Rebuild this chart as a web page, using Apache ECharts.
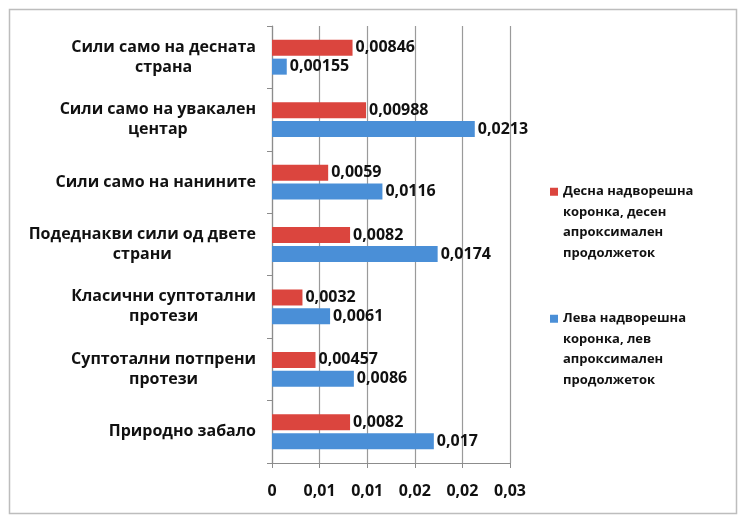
<!DOCTYPE html>
<html>
<head>
<meta charset="utf-8">
<script src="https://cdn.jsdelivr.net/npm/echarts@6/dist/echarts.min.js"></script>
<style>
  html, body { margin: 0; padding: 0; background: #fff; }
  #chart { width: 743px; height: 520px; }
</style>
</head>
<body>
<div id="chart"></div>
<script>
// Categories listed top to bottom; '\n' marks where a label wraps
const categories = [
  'Сили само на десната\nстрана',
  'Сили само на увакален\nцентар',
  'Сили само на нанините',
  'Подеднакви сили од двете\nстрани',
  'Класични суптотални\nпротези',
  'Суптотални потпрени\nпротези',
  'Природно забало'
];
const rightCrown = [0.00846, 0.00988, 0.0059, 0.0082, 0.0032, 0.00457, 0.0082];
const leftCrown  = [0.00155, 0.0213, 0.0116, 0.0174, 0.0061, 0.0086, 0.017];
const seriesNames = [
  'Десна надворешна коронка, десен апроксимален продолжеток',
  'Лева надворешна коронка, лев апроксимален продолжеток'
];
const legendText = [
  'Десна надворешна\nкоронка, десен\nапроксимален\nпродолжеток',
  'Лева надворешна\nкоронка, лев\nапроксимален\nпродолжеток'
];
const xTickLabels = ['0', '0,01', '0,01', '0,02', '0,02', '0,03'];
const xStep = 0.005;

const FONT = '"Open Sans", "DejaVu Sans", sans-serif';
const CAT_SIZE = 16;
const VAL_SIZE = 16;

// Wrapped category labels: every line is padded on both sides to the width of the
// longest line, so the lines come out centred inside a block that hugs the axis
const measureCtx = document.createElement('canvas').getContext('2d');
measureCtx.font = 'bold ' + CAT_SIZE + 'px ' + FONT;
const rich = {};
const catIndex = {};
categories.forEach(function (c, i) {
  catIndex[c] = i;
  const lines = c.split('\n');
  const widths = lines.map(function (l) { return measureCtx.measureText(l).width; });
  const w = Math.max.apply(null, widths);
  lines.forEach(function (l, j) {
    const p = Math.max(0, (w - widths[j]) / 2);
    rich['c' + i + '_' + j] = {
      padding: [0, p, 0, p],
      fontFamily: FONT, fontWeight: 'bold', fontSize: CAT_SIZE, lineHeight: 20, color: '#111'
    };
  });
});

// Legend entries: three leading blank lines keep the swatch level with the first text line
function legendFor(i, top) {
  return {
    data: [seriesNames[i]],
    orient: 'vertical', left: 550, top: top, padding: 0,
    icon: 'rect', itemWidth: 8, itemHeight: 8,
    formatter: function () { return '\n\n\n' + legendText[i]; },
    textStyle: {
      fontFamily: FONT, fontWeight: 'bold', fontSize: 13, color: '#111', lineHeight: 20.5
    }
  };
}

const valueLabel = {
  show: true, position: 'right', distance: 3,
  fontFamily: FONT, fontWeight: 'bold', fontSize: VAL_SIZE, color: '#111',
  formatter: function (p) { return String(p.value).replace('.', ','); }
};

const chart = echarts.init(document.getElementById('chart'), null, { renderer: 'canvas' });
chart.setOption({
  backgroundColor: '#fff',
  animation: false,
  graphic: [{
    type: 'rect', shape: { x: 9.5, y: 9.5, width: 727, height: 504 },
    style: { fill: 'none', stroke: '#bdbdbd', lineWidth: 1.5 }, silent: true, z: -1
  }],
  legend: [legendFor(0, 120), legendFor(1, 247)],
  grid: { left: 272, right: 233, top: 26, bottom: 57, containLabel: false },
  xAxis: {
    type: 'value', min: 0, max: 0.025, interval: xStep,
    axisLine: { show: true, lineStyle: { color: '#8c8c8c', width: 1.2 } },
    axisTick: { show: true, length: 5, lineStyle: { color: '#8c8c8c' } },
    splitLine: { show: true, lineStyle: { color: '#9a9a9a', width: 1.2 } },
    axisLabel: {
      margin: 20, fontFamily: FONT, fontWeight: 'bold', fontSize: VAL_SIZE, color: '#111',
      formatter: function (v) { return xTickLabels[Math.round(v / xStep)]; }
    }
  },
  yAxis: {
    type: 'category', inverse: true, data: categories,
    axisLine: { show: true, lineStyle: { color: '#8c8c8c', width: 1.2 } },
    axisTick: { show: true, length: 5, lineStyle: { color: '#8c8c8c' } },
    axisLabel: {
      margin: 16, fontFamily: FONT, fontWeight: 'bold', fontSize: CAT_SIZE, lineHeight: 20, color: '#111',
      formatter: function (v) {
        const i = catIndex[v];
        return v.split('\n').map(function (l, j) { return '{c' + i + '_' + j + '|' + l + '}'; }).join('\n');
      },
      rich: rich
    }
  },
  series: [
    {
      name: seriesNames[0], type: 'bar', data: rightCrown,
      barWidth: 16, barGap: '18%',
      itemStyle: { color: '#DB453E' }, label: valueLabel
    },
    {
      name: seriesNames[1], type: 'bar', data: leftCrown,
      barWidth: 16, barGap: '18%',
      itemStyle: { color: '#4A8FD7' }, label: valueLabel
    }
  ]
});
</script>
</body>
</html>
